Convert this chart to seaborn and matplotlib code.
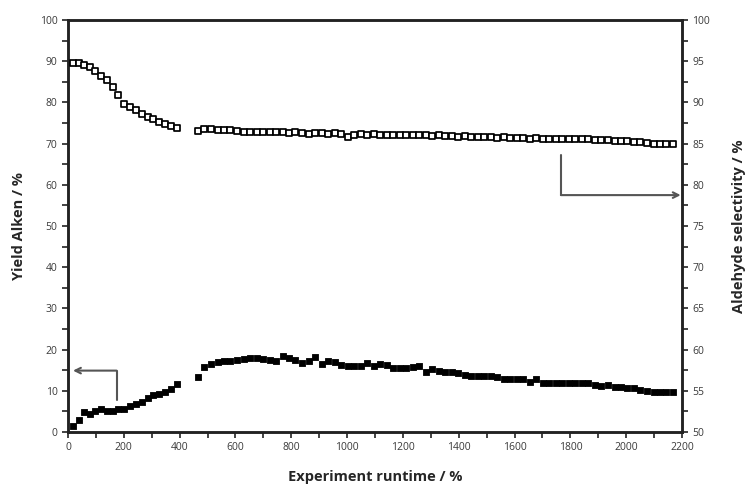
import matplotlib
matplotlib.use('Agg')
import matplotlib.pyplot as plt
import seaborn as sns
import pandas as pd
import numpy as np
from matplotlib.ticker import MultipleLocator

# runtime points, gap between ~390 and ~466
time_pre = [18, 38, 58, 78, 98, 118, 138, 160, 180, 200, 222, 242, 264, 285, 306, 327, 348, 368, 389]
time_post = [466, 489, 512, 536, 559, 582, 606, 629, 652, 676, 699, 722, 746, 769, 792, 815, 839, 862,
             885, 909, 932, 955, 979, 1002, 1025, 1049, 1072, 1095, 1119, 1142, 1165, 1188, 1212, 1235,
             1258, 1282, 1305, 1328, 1352, 1375, 1398, 1422, 1445, 1468, 1491, 1515, 1538, 1561, 1585,
             1608, 1631, 1655, 1678, 1701, 1725, 1748, 1771, 1795, 1818, 1841, 1864, 1888, 1911, 1934,
             1958, 1981, 2004, 2028, 2051, 2074, 2098, 2121, 2144, 2168]

# Aldehyde selectivity / % (right axis)
sel_pre = [94.75, 94.75, 94.55, 94.35, 93.85, 93.2, 92.7, 91.9, 90.95, 89.8, 89.5, 89.1, 88.65, 88.25,
           87.95, 87.65, 87.35, 87.15, 86.95]
sel_post = [86.5, 86.75, 86.8, 86.7, 86.65, 86.6, 86.55, 86.45, 86.4, 86.45, 86.4, 86.4, 86.35, 86.4,
            86.3, 86.35, 86.25, 86.2, 86.3, 86.25, 86.2, 86.25, 86.15, 85.75, 86.1, 86.15, 86.1, 86.15,
            86.1, 86.05, 86.1, 86.05, 86.05, 86.0, 86.05, 86.0, 85.95, 86.0, 85.9, 85.9, 85.85, 85.9,
            85.8, 85.8, 85.75, 85.8, 85.7, 85.75, 85.7, 85.65, 85.7, 85.6, 85.65, 85.6, 85.55, 85.6,
            85.5, 85.55, 85.5, 85.55, 85.5, 85.45, 85.45, 85.4, 85.35, 85.35, 85.3, 85.25, 85.15, 85.05,
            84.95, 85.0, 84.9, 84.95]

# Yield Alken / % (left axis)
yield_pre = [1.5, 2.9, 4.9, 4.4, 5.2, 5.6, 5.2, 5.0, 5.6, 5.7, 6.2, 6.8, 7.3, 8.2, 9.0, 9.2, 9.8, 10.4, 11.7]
yield_post = [13.3, 15.7, 16.5, 17.1, 17.3, 17.3, 17.5, 17.7, 17.9, 17.9, 17.7, 17.5, 17.2, 18.4, 17.9,
              17.4, 16.7, 17.3, 18.3, 16.5, 17.3, 17.0, 16.3, 16.0, 15.9, 16.0, 16.7, 15.9, 16.5, 16.2,
              15.5, 15.5, 15.5, 15.7, 15.9, 14.6, 15.2, 14.9, 14.6, 14.6, 14.2, 13.8, 13.6, 13.6, 13.6,
              13.6, 13.4, 12.8, 12.8, 12.8, 12.8, 12.2, 12.8, 12.0, 11.9, 11.9, 11.9, 12.0, 11.9, 12.0,
              11.9, 11.4, 11.2, 11.3, 11.0, 10.9, 10.8, 10.6, 10.3, 10.0, 9.8, 9.6, 9.6, 9.7]

df = pd.DataFrame({
    'runtime': time_pre + time_post,
    'yield': yield_pre + yield_post,
    'selectivity': sel_pre + sel_post,
})

# arrow paths (x, y on own axis)
arrow_left = [(174, 7.8), (174, 14.9), (18, 14.9)]
arrow_right = [(1766, 83.6), (1766, 78.75), (2195, 78.75)]

sns.set_style('ticks')
plt.rcParams['font.family'] = ['Open Sans', 'DejaVu Sans']

fig = plt.figure(figsize=(7.52, 4.94), dpi=100)
ax = fig.add_axes([0.0904, 0.1255, 0.8166, 0.834])
ax2 = ax.twinx()

sns.scatterplot(data=df, x='runtime', y='yield', ax=ax, marker='s', s=15,
                color='black', edgecolor='black', linewidth=0.6, zorder=3)
sns.scatterplot(data=df, x='runtime', y='selectivity', ax=ax2, marker='s', s=20,
                facecolor='white', edgecolor='black', linewidth=1.25, zorder=3)

arrow_col = '#555555'
for a, path in [(ax, arrow_left), (ax2, arrow_right)]:
    xs = [p[0] for p in path]
    ys = [p[1] for p in path]
    a.plot(xs[:2], ys[:2], color=arrow_col, lw=1.5)
    a.annotate('', xy=path[2], xytext=path[1],
               arrowprops=dict(arrowstyle='->', color=arrow_col, lw=1.5,
                               shrinkA=0, shrinkB=0, mutation_scale=10))

ax.set_xlim(0, 2200)
ax.set_ylim(0, 100)
ax2.set_ylim(50, 100)

ax.xaxis.set_major_locator(MultipleLocator(200))
ax.xaxis.set_minor_locator(MultipleLocator(100))
ax.yaxis.set_major_locator(MultipleLocator(10))
ax.yaxis.set_minor_locator(MultipleLocator(5))
ax2.yaxis.set_major_locator(MultipleLocator(5))
ax2.yaxis.set_minor_locator(MultipleLocator(2.5))

tick_col = '#3a3a3a'
for a in (ax, ax2):
    a.tick_params(which='both', direction='out', width=1.2, color='#222222',
                  labelsize=7.5, labelcolor=tick_col)
    a.tick_params(which='major', length=4)
    a.tick_params(which='minor', length=4)
    for sp in a.spines.values():
        sp.set_visible(True)
        sp.set_linewidth(1.8)
        sp.set_color('#222222')

ax.set_xlabel('Experiment runtime / %', fontsize=10.5, fontweight='bold', labelpad=12)
ax.set_ylabel('Yield Alken / %', fontsize=10.5, fontweight='bold', labelpad=10)
ax2.set_ylabel('Aldehyde selectivity / %', fontsize=10.5, fontweight='bold', labelpad=16)

fig.savefig('out.png', dpi=100)
